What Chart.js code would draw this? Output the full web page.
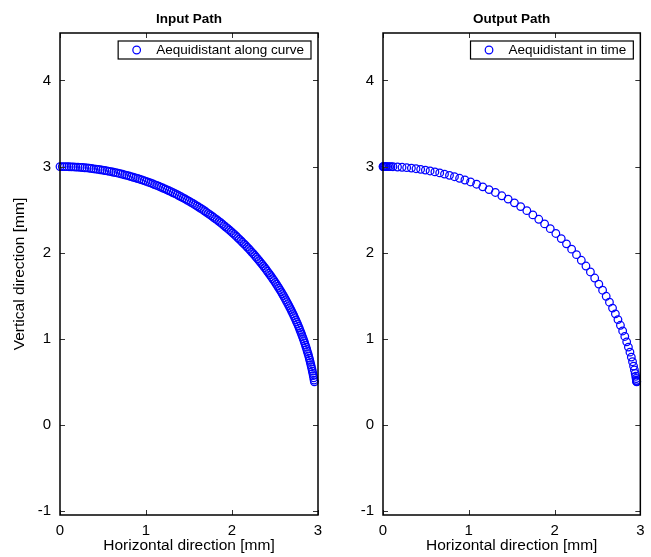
<!DOCTYPE html>
<html><head><meta charset="utf-8">
<script src="https://cdn.jsdelivr.net/npm/chart.js@4.4.1/dist/chart.umd.min.js"></script>
<style>
html,body{margin:0;padding:0;background:#fff;}
#wrap{position:relative;width:651px;height:557px;overflow:hidden;background:#fff;}
canvas{position:absolute;top:0;}
</style></head><body>
<div id="wrap"><canvas id="c1" width="330" height="557" style="left:0"></canvas><canvas id="c2" width="321" height="557" style="left:330px"></canvas></div>
<script>
const xTicks = [0, 1, 2, 3];
const yTicks = [-1, 0, 1, 2, 3, 4];
const xLimits = [0, 3];
const yLimits = [-1.046, 4.551];
const plotTitles = ['Input Path', 'Output Path'];
const seriesNames = ['Aequidistant along curve', 'Aequidistant in time'];
const xAxisTitle = 'Horizontal direction [mm]';
const yAxisTitle = 'Vertical direction [mm]';

const inputX = [0.000,0.026,0.052,0.079,0.105,0.131,0.157,0.183,0.209,0.235,0.261,0.288,0.314,0.340,0.366,0.392,0.418,0.443,0.469,0.495,0.521,0.547,0.572,0.598,0.624,0.649,0.675,0.700,0.726,0.751,0.776,0.802,0.827,0.852,0.877,0.902,0.927,0.952,0.977,1.001,1.026,1.051,1.075,1.099,1.124,1.148,1.172,1.196,1.220,1.244,1.268,1.291,1.315,1.339,1.362,1.385,1.408,1.431,1.454,1.477,1.500,1.523,1.545,1.567,1.590,1.612,1.634,1.656,1.678,1.699,1.721,1.742,1.763,1.784,1.805,1.826,1.847,1.868,1.888,1.908,1.928,1.948,1.968,1.988,2.007,2.027,2.046,2.065,2.084,2.103,2.121,2.140,2.158,2.176,2.194,2.212,2.229,2.247,2.264,2.281,2.298,2.315,2.331,2.348,2.364,2.380,2.396,2.411,2.427,2.442,2.457,2.472,2.487,2.502,2.516,2.530,2.544,2.558,2.572,2.585,2.598,2.611,2.624,2.636,2.649,2.661,2.673,2.685,2.696,2.708,2.719,2.730,2.741,2.751,2.762,2.772,2.782,2.791,2.801,2.810,2.819,2.828,2.837,2.845,2.853,2.861,2.869,2.876,2.884,2.891,2.898,2.904,2.911,2.917,2.923,2.929,2.934,2.940,2.945,2.950,2.954,2.958];
const inputY = [3.000,3.000,3.000,2.999,2.998,2.997,2.996,2.994,2.993,2.991,2.989,2.986,2.984,2.981,2.978,2.974,2.971,2.967,2.963,2.959,2.954,2.950,2.945,2.940,2.934,2.929,2.923,2.917,2.911,2.904,2.898,2.891,2.884,2.876,2.869,2.861,2.853,2.845,2.837,2.828,2.819,2.810,2.801,2.791,2.782,2.772,2.762,2.751,2.741,2.730,2.719,2.708,2.696,2.685,2.673,2.661,2.649,2.636,2.624,2.611,2.598,2.585,2.572,2.558,2.544,2.530,2.516,2.502,2.487,2.472,2.457,2.442,2.427,2.411,2.396,2.380,2.364,2.348,2.331,2.315,2.298,2.281,2.264,2.247,2.229,2.212,2.194,2.176,2.158,2.140,2.121,2.103,2.084,2.065,2.046,2.027,2.007,1.988,1.968,1.948,1.928,1.908,1.888,1.868,1.847,1.826,1.805,1.784,1.763,1.742,1.721,1.699,1.678,1.656,1.634,1.612,1.590,1.567,1.545,1.523,1.500,1.477,1.454,1.431,1.408,1.385,1.362,1.339,1.315,1.291,1.268,1.244,1.220,1.196,1.172,1.148,1.124,1.099,1.075,1.051,1.026,1.001,0.977,0.952,0.927,0.902,0.877,0.852,0.827,0.802,0.776,0.751,0.726,0.700,0.675,0.649,0.624,0.598,0.572,0.547,0.521,0.500];

const outputX = [0.000,0.003,0.009,0.017,0.028,0.041,0.056,0.073,0.093,0.116,0.169,0.222,0.276,0.331,0.385,0.439,0.494,0.549,0.605,0.661,0.717,0.775,0.833,0.893,0.955,1.021,1.091,1.163,1.236,1.310,1.385,1.459,1.532,1.605,1.677,1.747,1.816,1.884,1.950,2.015,2.078,2.139,2.199,2.256,2.312,2.366,2.418,2.468,2.516,2.560,2.602,2.640,2.676,2.709,2.739,2.768,2.794,2.819,2.841,2.861,2.879,2.895,2.909,2.921,2.931,2.940,2.946,2.951,2.955,2.957,2.958,2.958];
const outputY = [3.000,3.000,3.000,3.000,3.000,3.000,2.999,2.999,2.999,2.998,2.995,2.992,2.987,2.982,2.975,2.968,2.959,2.949,2.938,2.926,2.913,2.898,2.882,2.864,2.844,2.821,2.795,2.765,2.733,2.699,2.661,2.622,2.579,2.535,2.488,2.439,2.388,2.334,2.279,2.223,2.164,2.103,2.041,1.977,1.912,1.845,1.776,1.706,1.635,1.564,1.494,1.425,1.357,1.290,1.223,1.157,1.091,1.027,0.965,0.904,0.845,0.788,0.734,0.683,0.638,0.598,0.565,0.539,0.519,0.508,0.502,0.500];

const FONT = '"Liberation Sans", Arial, Helvetica, sans-serif';
const MARKER_COLOR = '#0000ff';
const MARKER_R = 3.8;
const MARKER_W = 1.25;

function pairs(xs, ys) {
  const n = Math.min(xs.length, ys.length);
  const out = [];
  for (let i = 0; i < n; i++) out.push({x: xs[i], y: ys[i]});
  return out;
}

const boxPlugin = {
  id: 'matlabBox',
  afterDraw(chart) {
    const {ctx, chartArea: a, scales: {x, y}} = chart;
    ctx.save();
    ctx.strokeStyle = '#333';
    ctx.lineWidth = 1;
    ctx.beginPath();
    x.ticks.forEach(t => {
      const px = Math.round(x.getPixelForValue(t.value)) + 0.5;
      ctx.moveTo(px, a.bottom); ctx.lineTo(px, a.bottom - 5);
      ctx.moveTo(px, a.top); ctx.lineTo(px, a.top + 5);
    });
    y.ticks.forEach(t => {
      const py = Math.round(y.getPixelForValue(t.value)) + 0.5;
      ctx.moveTo(a.left, py); ctx.lineTo(a.left + 5, py);
      ctx.moveTo(a.right, py); ctx.lineTo(a.right - 5, py);
    });
    ctx.stroke();
    ctx.strokeStyle = '#000';
    ctx.lineWidth = 1.5;
    ctx.strokeRect(a.left, a.top, a.right - a.left, a.bottom - a.top);
    const ds = chart.data.datasets[0];
    ctx.font = '13.5px ' + FONT;
    const tw = ctx.measureText(ds.label).width;
    const right = a.right - 7, top = a.top + 8, h = 18;
    const left = right - 7 - tw - 38;
    ctx.fillStyle = '#fff';
    ctx.fillRect(left, top, right - left, h);
    ctx.strokeStyle = '#000';
    ctx.lineWidth = 1.2;
    ctx.strokeRect(left, top, right - left, h);
    ctx.beginPath();
    ctx.strokeStyle = MARKER_COLOR;
    ctx.lineWidth = MARKER_W;
    ctx.arc(left + 18.5, top + h / 2, MARKER_R, 0, Math.PI * 2);
    ctx.stroke();
    ctx.fillStyle = '#000';
    ctx.textBaseline = 'middle';
    ctx.textAlign = 'left';
    ctx.fillText(ds.label, left + 38, top + h / 2 + 0.5);
    ctx.restore();
  }
};

function makeChart(id, title, label, xs, ys, opts) {
  return new Chart(document.getElementById(id), {
    type: 'scatter',
    data: {datasets: [{
      label: label,
      data: pairs(xs, ys),
      showLine: false,
      pointStyle: 'circle',
      pointRadius: MARKER_R,
      pointBorderWidth: MARKER_W,
      pointBorderColor: MARKER_COLOR,
      pointBackgroundColor: 'rgba(0,0,0,0)',
      clip: false
    }]},
    options: {
      responsive: false,
      animation: false,
      events: [],
      layout: {padding: {left: 0, right: opts.padRight, top: 0, bottom: 0}},
      plugins: {
        legend: {display: false},
        tooltip: {enabled: false},
        title: {
          display: true, text: title, fullSize: false, color: '#000',
          font: {family: FONT, size: 13.5, weight: 'bold', lineHeight: 1.2},
          padding: {top: 11, bottom: 5.8}
        }
      },
      scales: {
        x: {
          type: 'linear', min: xLimits[0], max: xLimits[1],
          afterBuildTicks: s => { s.ticks = xTicks.map(v => ({value: v})); },
          afterFit: s => { s.height = 42; },
          grid: {display: false, drawTicks: false},
          border: {display: false},
          ticks: {color: '#000', padding: 6.5, font: {family: FONT, size: 15}, callback: v => String(v), maxRotation: 0},
          title: {display: true, text: xAxisTitle, color: '#000', font: {family: FONT, size: 15.5, lineHeight: 1.2}, padding: {top: 0, bottom: 1.7}}
        },
        y: {
          type: 'linear', min: yLimits[0], max: yLimits[1],
          afterBuildTicks: s => { s.ticks = yTicks.map(v => ({value: v})); },
          afterFit: s => { s.width = opts.yWidth; },
          grid: {display: false, drawTicks: false},
          border: {display: false},
          ticks: {color: '#000', padding: 9, font: {family: FONT, size: 15}, callback: v => String(v)},
          title: {display: opts.yTitle, text: yAxisTitle, color: '#000', font: {family: FONT, size: 15.5, lineHeight: 1.2}, padding: {top: 10, bottom: 0}}
        }
      }
    },
    plugins: [boxPlugin]
  });
}

makeChart('c1', plotTitles[0], seriesNames[0], inputX, inputY, {padRight: 12, yWidth: 60, yTitle: true});
makeChart('c2', plotTitles[1], seriesNames[1], outputX, outputY, {padRight: 10, yWidth: 53, yTitle: false});
</script>
</body></html>
